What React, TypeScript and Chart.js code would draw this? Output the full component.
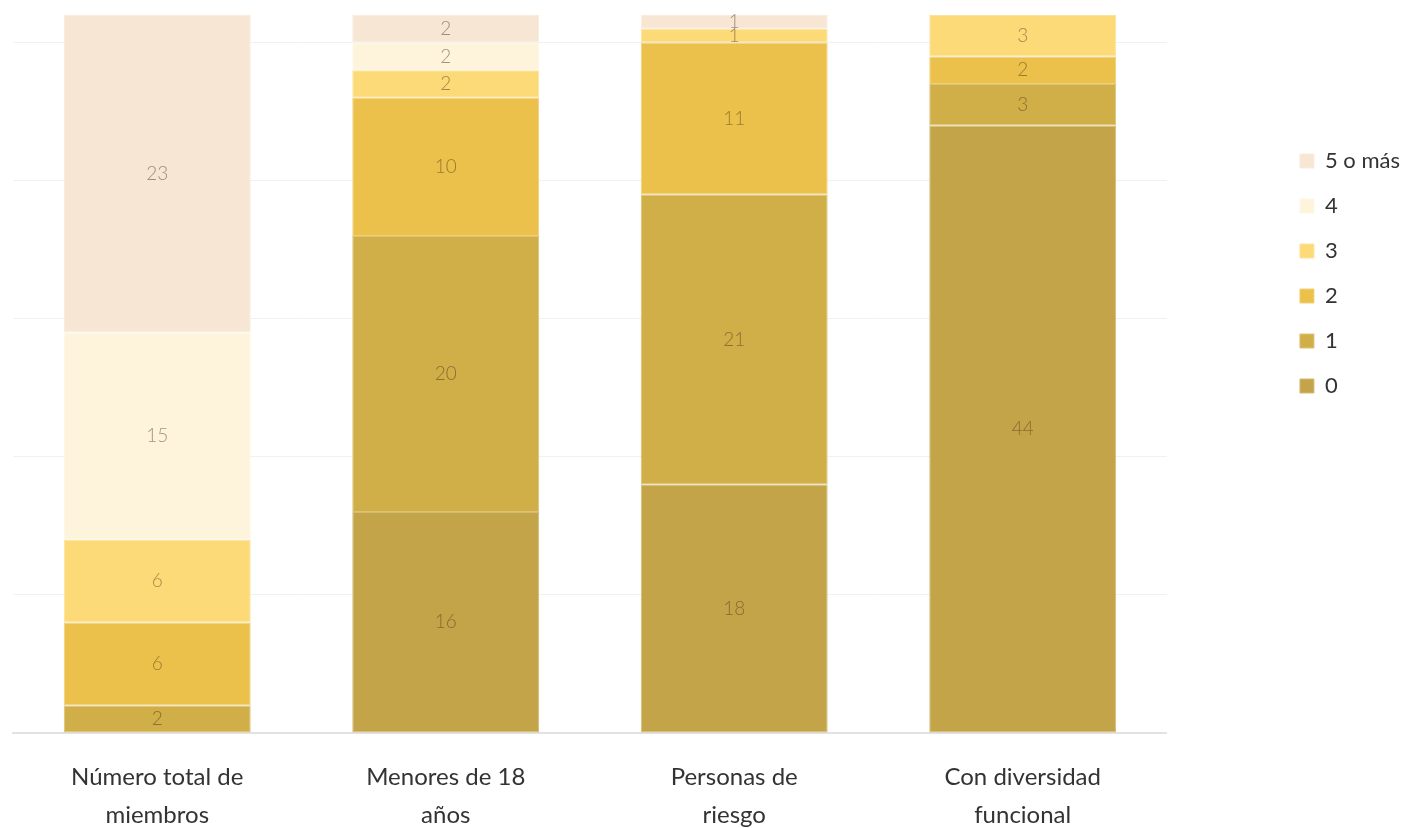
import React, { useEffect, useRef } from "react";
import { Chart, registerables } from "chart.js";

Chart.register(...registerables);

// Categories (two-line axis labels)
const categories: string[][] = [
  ["Número total de", "miembros"],
  ["Menores de 18", "años"],
  ["Personas de", "riesgo"],
  ["Con diversidad", "funcional"],
];

// Series names, bottom of the stack first
const seriesNames = ["0", "1", "2", "3", "4", "5 o más"];

// Values per series, one per category
const values0 = [0, 16, 18, 44];
const values1 = [2, 20, 21, 3];
const values2 = [6, 10, 11, 2];
const values3 = [6, 2, 1, 3];
const values4 = [15, 2, 0, 0];
const values5 = [23, 2, 1, 0];

const seriesValues = [values0, values1, values2, values3, values4, values5];
const seriesColors = ["#c4a449", "#d0ae48", "#ecc14b", "#fcda78", "#fef4db", "#f7e6d3"];
// Slightly lighter edge for each segment
const seriesEdges = ["#d3bb77", "#dcc276", "#f1d178", "#fde39a", "#fef7e4", "#f9ecde"];

const yMax = 52;
const yStep = 10;

const FONT = "Lato, 'Open Sans', sans-serif";

// Writes each segment's value in the middle of the segment
const segmentLabels = {
  id: "segmentLabels",
  afterDatasetsDraw(chart: any) {
    const { ctx } = chart;
    ctx.save();
    ctx.font = `300 19px ${FONT}`;
    ctx.textAlign = "center";
    ctx.textBaseline = "middle";
    ctx.fillStyle = "rgba(70, 52, 25, 0.5)";
    chart.data.datasets.forEach((ds: any, di: number) => {
      const meta = chart.getDatasetMeta(di);
      if (meta.hidden) return;
      meta.data.forEach((bar: any, i: number) => {
        const v = ds.data[i];
        if (!v) return;
        const { x, y, base } = bar.getProps(["x", "y", "base"], true);
        ctx.fillText(String(v), x, (y + base) / 2);
      });
    });
    ctx.restore();
  },
};

export default function App() {
  const canvasRef = useRef<HTMLCanvasElement | null>(null);

  useEffect(() => {
    const canvas = canvasRef.current;
    if (!canvas) return;
    const chart = new Chart(canvas, {
      type: "bar",
      data: {
        labels: categories,
        datasets: seriesNames.map((name, i) => ({
          label: name,
          data: seriesValues[i],
          backgroundColor: seriesColors[i],
          borderColor: seriesEdges[i],
          borderWidth: 1,
          borderSkipped: false,
          categoryPercentage: 0.8,
          barPercentage: 0.81,
        })),
      },
      options: {
        responsive: false,
        animation: false,
        devicePixelRatio: 1,
        layout: { padding: { top: 15, left: 13, right: 5, bottom: 0 } },
        plugins: {
          tooltip: { enabled: false },
          legend: {
            position: "right",
            align: "start",
            reverse: true,
            title: { display: true, text: "", font: { size: 10 }, padding: { top: 100, bottom: 0 } },
            labels: {
              boxWidth: 14,
              boxHeight: 14,
              padding: 23,
              color: "#333333",
              font: { family: FONT, size: 22 },
            },
          },
        },
        scales: {
          x: {
            stacked: true,
            grid: { display: false, drawTicks: false },
            border: { display: true, color: "#e2e2e2", width: 2 },
            ticks: {
              color: "#333333",
              padding: 25,
              maxRotation: 0,
              autoSkip: false,
              font: { family: FONT, size: 24, lineHeight: 1.58 },
            },
            afterFit: (scale: any) => {
              scale.height = 95;
            },
          },
          y: {
            stacked: true,
            position: "right",
            min: 0,
            max: yMax,
            ticks: { display: false, stepSize: yStep },
            border: { display: false },
            grid: {
              drawTicks: false,
              color: (c: any) => (c.tick && c.tick.value % yStep === 0 ? "#f1f1f1" : "rgba(0,0,0,0)"),
            },
            afterFit: (scale: any) => {
              scale.width = 110;
            },
          },
        },
      },
      plugins: [segmentLabels],
    });
    return () => chart.destroy();
  }, []);

  return (
    <div style={{ position: "fixed", left: 0, top: 0, width: 1415, height: 828, background: "#fff" }}>
      <canvas ref={canvasRef} width={1415} height={828} style={{ display: "block" }} />
    </div>
  );
}
